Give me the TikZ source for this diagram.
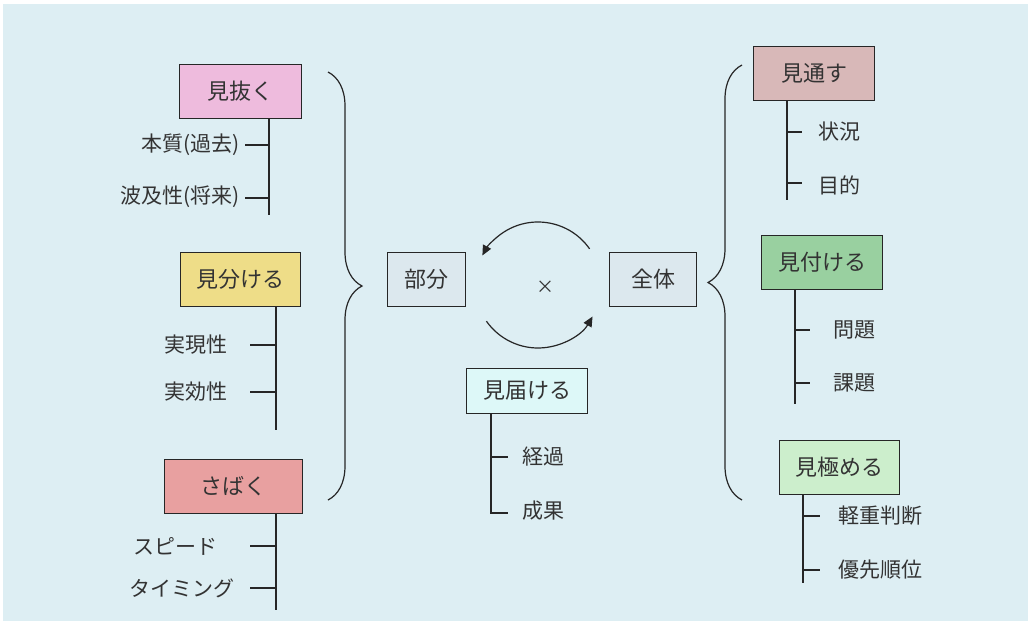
\documentclass[tikz,border=0pt]{standalone}
\usepackage{fontspec}
\setmainfont{Noto Sans CJK JP}
\usetikzlibrary{decorations.pathreplacing,arrows.meta}
\definecolor{bg}{HTML}{DDEEF3}
\definecolor{c1}{HTML}{EEBBDD}
\begin{document}
\begin{tikzpicture}[x=1pt,y=-1pt,
  box/.style={draw=black!85,line width=1pt,minimum height=54pt,inner sep=0pt,font=\fontsize{22}{22}\selectfont,text=black!80},
  lab/.style={font=\fontsize{21}{21}\selectfont,text=black!80,inner sep=0pt},
  ln/.style={line width=1.2pt,draw=black!85},
  br/.style={line width=1.2pt,draw=black!85,decorate,decoration={brace,amplitude=34pt}}]
\useasboundingbox (0,0) rectangle (1031,625);
\fill[white] (0,0) rectangle (1031,625);
\fill[bg] (3,4) rectangle (1028,621);
% left boxes
\node[box,fill=c1,minimum width=122pt] (nuku) at (240,91) {見抜く};
\draw[ln] (269,118) -- (269,215);
\node[lab,anchor=east] (t1) at (240,145) {本質(過去)};
\node[lab,anchor=east] (t2) at (240,197) {波及性(将来)};
\draw[ln] (269,145) -- ++(-24,0); \draw[ln] (269,198) -- ++(-24,0);

\definecolor{c2}{HTML}{EEDD88}
\node[box,fill=c2,minimum width=120pt] (wake) at (240,279) {見分ける};
\draw[ln] (276,306) -- (276,430);
\node[lab,anchor=east] (t3) at (228,345) {実現性};
\node[lab,anchor=east] (t4) at (228,392) {実効性};
\draw[ln] (276,345) -- (250,345); \draw[ln] (276,392) -- (250,392);

\definecolor{c3}{HTML}{E8A0A0}
\node[box,fill=c3,minimum width=138pt] (sabaku) at (233,486) {さばく};
\draw[ln] (276,513) -- (276,610);
\node[lab,anchor=east] (t5) at (218,546) {スピード};
\node[lab,anchor=east] (t6) at (235,588) {タイミング};
\draw[ln] (276,546) -- (250,546); \draw[ln] (276,588) -- (250,588);

\draw[br] (328,72) -- (328,500);

\definecolor{c4}{HTML}{DCE8EE}
\node[box,fill=c4,minimum width=78pt] (bubun) at (426,279) {部分};
\node[box,fill=c4,minimum width=87pt] (zentai) at (653,279) {全体};
\node[font=\fontsize{18}{18}\selectfont,text=black!80] (x) at (545,287) {×};
\coordinate (c) at (538,285);
\draw[ln,-{Triangle[length=10pt,width=9pt]}] ([shift={(-35:63)}]c) arc[start angle=-35,end angle=-152,radius=63];
\draw[ln,-{Triangle[length=10pt,width=9pt]}] ([shift={(145:63)}]c) arc[start angle=145,end angle=30,radius=63];

\definecolor{c5}{HTML}{DDF8F8}
\node[box,fill=c5,minimum width=121pt,minimum height=45pt] (todoke) at (527,391) {見届ける};
\draw[ln] (491,414) -- (491,513) -- (508,513);
\draw[ln] (491,457) -- (508,457);
\node[lab,anchor=west] (t7) at (522,457) {経過};
\node[lab,anchor=west] (t8) at (522,511) {成果};

\draw[br] (742,500) -- (742,65);

\definecolor{c6}{HTML}{D8B8B8}
\node[box,fill=c6,minimum width=121pt] (toosu) at (814,73) {見通す};
\draw[ln] (787,100) -- (787,200);
\draw[ln] (787,132) -- (802,132); \draw[ln] (787,183) -- (802,183);
\node[lab,anchor=west] (t9) at (818,132) {状況};
\node[lab,anchor=west] (t10) at (818,185) {目的};

\definecolor{c7}{HTML}{99D0A0}
\node[box,fill=c7,minimum width=121pt] (tsuke) at (822,262) {見付ける};
\draw[ln] (795,289) -- (795,404);
\draw[ln] (795,330) -- (810,330); \draw[ln] (795,383) -- (810,383);
\node[lab,anchor=west] (t11) at (833,330) {問題};
\node[lab,anchor=west] (t12) at (833,383) {課題};

\definecolor{c8}{HTML}{CCEECC}
\node[box,fill=c8,minimum width=120pt] (kiwame) at (839,467) {見極める};
\draw[ln] (803,494) -- (803,583);
\draw[ln] (803,516) -- (820,516); \draw[ln] (803,570) -- (820,570);
\node[lab,anchor=west] (t13) at (838,516) {軽重判断};
\node[lab,anchor=west] (t14) at (838,570) {優先順位};
\end{tikzpicture}
\end{document}
